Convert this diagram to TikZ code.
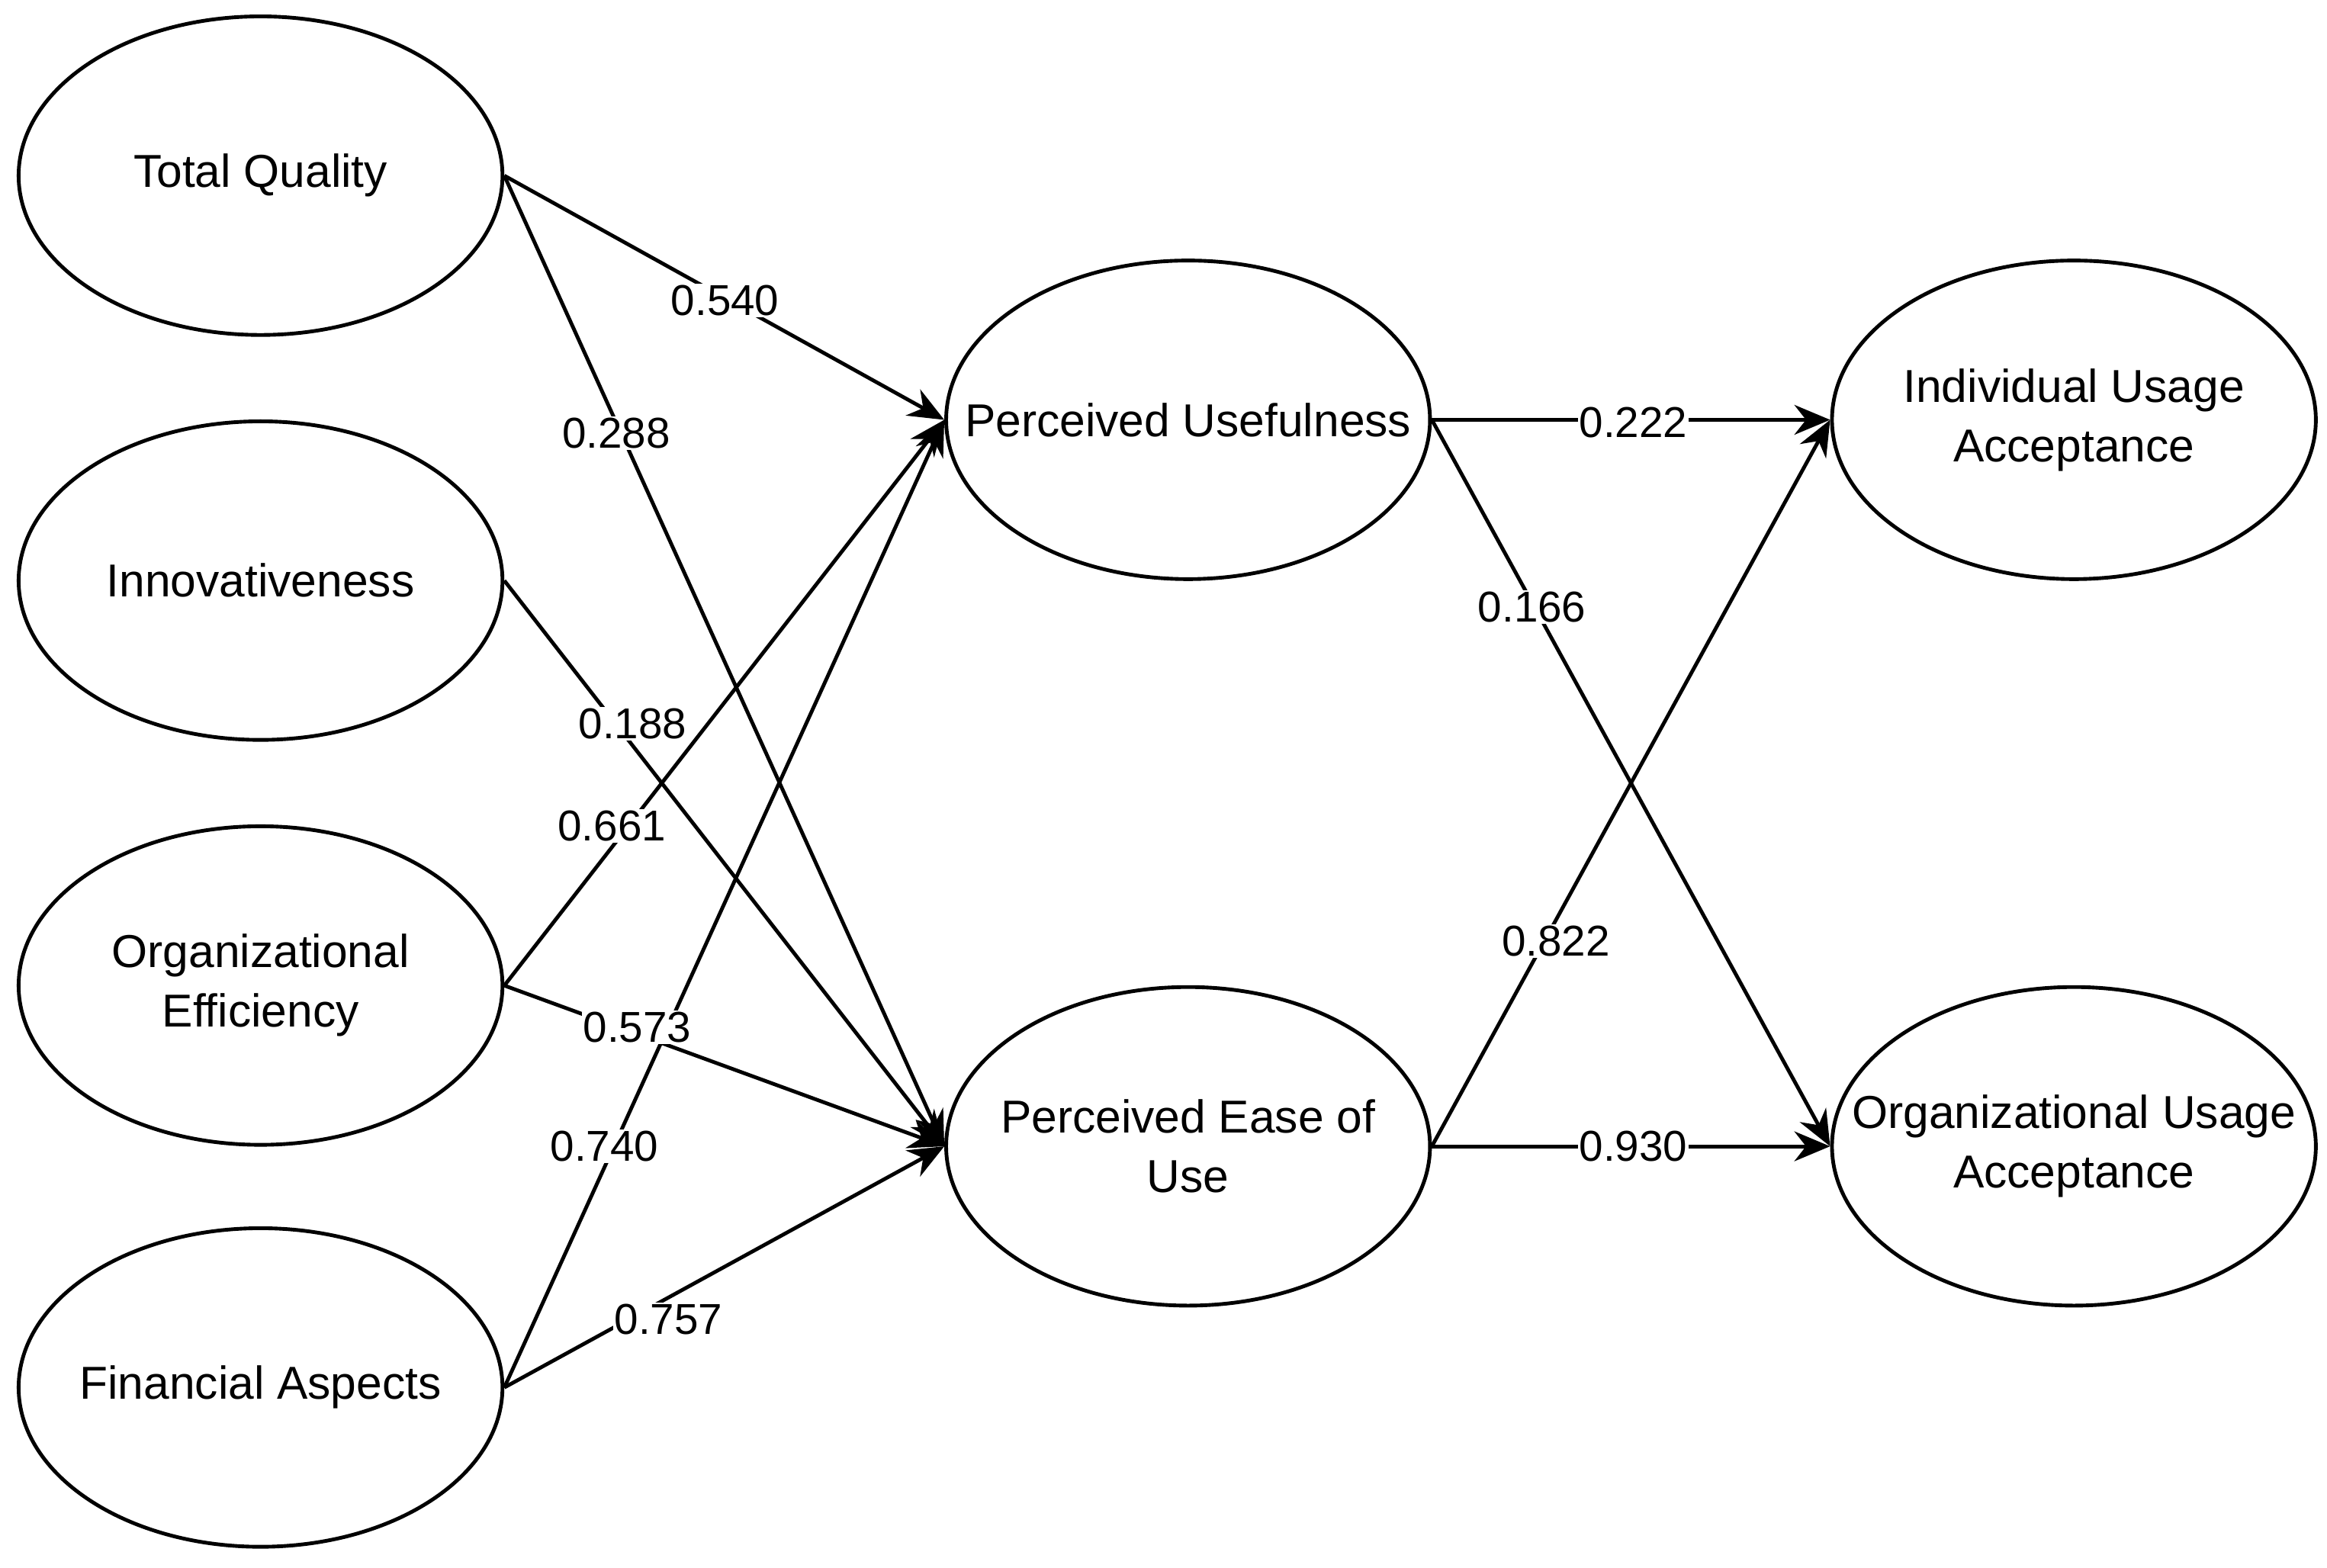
\documentclass[tikz,border=0pt]{standalone}
\usepackage{fontspec}
\setmainfont{Liberation Sans}
\usetikzlibrary{shapes.geometric,arrows.meta}
\begin{document}
\begin{tikzpicture}[x=1pt,y=-1pt,
  el/.style={draw,line width=2.5pt,ellipse,minimum width=325pt,minimum height=214pt,inner sep=0pt},
  tx/.style={align=center,font=\fontsize{31}{40}\selectfont,inner sep=0pt},
  ar/.style={line width=2.5pt,-{Stealth[length=24pt,width=20pt]}},
  lb/.style={fill=white,inner sep=1pt,font=\fontsize{29}{32}\selectfont}]
\useasboundingbox (0,0) rectangle (1563,1053);
\node[el] (tq) at (175,118) {};
\node[el] (in) at (175,390) {};
\node[el] (oe) at (175,662) {};
\node[el] (fa) at (175,932) {};
\node[el] (pu) at (798,282) {};
\node[el] (pe) at (798,770) {};
\node[el] (iu) at (1393,282) {};
\node[el] (ou) at (1393,770) {};
\node[tx] (ttq) at (tq) {Total Quality};
\node[tx] (tin) at (in) {Innovativeness};
\node[tx] (toe) at (oe) {Organizational\\Efficiency};
\node[tx] (tfa) at (fa) {Financial Aspects};
\node[tx] (tpu) at (pu) {Perceived Usefulness};
\node[tx] (tpe) at (pe) {Perceived Ease of\\Use};
\node[tx] (tiu) at (iu) {Individual Usage\\Acceptance};
\node[tx] (tou) at (ou) {Organizational Usage\\Acceptance};
\draw[ar] (tq.east) -- (pu.west);
\draw[ar] (tq.east) -- (pe.west);
\draw[ar] (in.east) -- (pe.west);
\draw[ar] (oe.east) -- (pu.west);
\draw[ar] (oe.east) -- (pe.west);
\draw[ar] (fa.east) -- (pu.west);
\draw[ar] (fa.east) -- (pe.west);
\draw[ar] (pu.east) -- (iu.west);
\draw[ar] (pu.east) -- (ou.west);
\draw[ar] (pe.east) -- (iu.west);
\draw[ar] (pe.east) -- (ou.west);
\node[lb] (l1) at (487,202) {0.540};
\node[lb] (l2) at (414,291) {0.288};
\node[lb] (l3) at (425,486) {0.188};
\node[lb] (l4) at (411,555) {0.661};
\node[lb] (l5) at (428,690) {0.573};
\node[lb] (l6) at (406,770) {0.740};
\node[lb] (l7) at (449,886) {0.757};
\node[lb] (l8) at (1097,284) {0.222};
\node[lb] (l9) at (1029,408) {0.166};
\node[lb] (l10) at (1045,632) {0.822};
\node[lb] (l11) at (1097,770) {0.930};
\end{tikzpicture}
\end{document}
